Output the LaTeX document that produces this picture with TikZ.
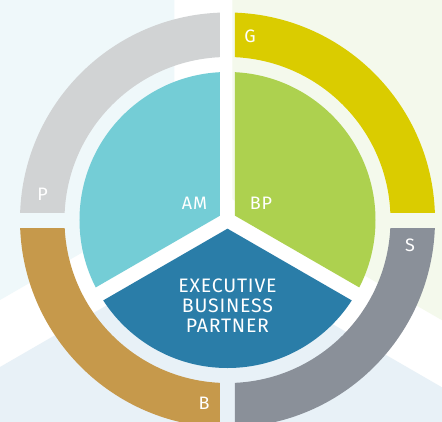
\documentclass[tikz,border=0pt]{standalone}
\usepackage{fontspec}
\setmainfont[LetterSpace=4]{Fira Sans}
\definecolor{bgam}{HTML}{EFF8FA}
\definecolor{bgbp}{HTML}{F4F9EC}
\definecolor{bgebp}{HTML}{E8F1F7}
\definecolor{ringg}{HTML}{DACC00}
\definecolor{ringp}{HTML}{D1D3D4}
\definecolor{ringb}{HTML}{C6994B}
\definecolor{rings}{HTML}{8A9099}
\definecolor{pieam}{HTML}{74CDD6}
\definecolor{piebp}{HTML}{ADD14F}
\definecolor{pieebp}{HTML}{2A7DA8}

\begin{document}
\begin{tikzpicture}[x=1pt,y=1pt,
    lbl/.style={text=white,font=\fontsize{18}{20.3}\selectfont,inner sep=0pt}]

    \useasboundingbox (-227.5,-201) rectangle (214.5,220);
    \clip (-227.5,-201) rectangle (214.5,220);

    % background
    \fill[white] (-227.5,-201) rectangle (214.5,220);
    \fill[bgam] (-53,20.75) -- ++(210:260) |- (-53,230) -- cycle;
    \fill[bgbp] (5,20.75) -- ++(330:260) |- (5,230) -- cycle;
    \fill[bgebp] (-24,-29.5) -- ++(210:320) -- ++(0,-50) -- ++(554,0) -- ++(0,50) -- cycle;

    % outer ring
    \foreach \sx/\sy/\col in {1/1/ringg,-1/1/ringp,-1/-1/ringb,1/-1/rings}
    { \begin{scope}
        \clip (\sx*7.5,\sy*8) rectangle (\sx*220,\sy*220);
        \fill[\col,even odd rule] (0,0) circle[radius=207.5] circle[radius=163];
      \end{scope} }

    % inner pie
    \foreach \a/\col in {90/pieam,210/pieebp,330/piebp}
    { \begin{scope}
        \clip (\a+60:8.66) -- +(\a:250) -- +(\a+60:300) -- +(\a+120:250) -- cycle;
        \fill[\col] (0,0) circle[radius=148];
      \end{scope} }

    \node (g) [lbl] at (22.5,184) {G};
    \node (p) [lbl] at (-185,26) {P};
    \node (s) [lbl] at (182.5,-25.5) {S};
    \node (b) [lbl] at (-23.5,-183.5) {B};
    \node (am) [lbl] at (-33,17) {AM};
    \node (bp) [lbl] at (33.5,17) {BP};
    \node (ebp) [lbl,align=center,font=\fontsize{19.5}{20.3}\selectfont] at (0,-85.5) {EXECUTIVE\\BUSINESS\\PARTNER};

\end{tikzpicture}
\end{document}
